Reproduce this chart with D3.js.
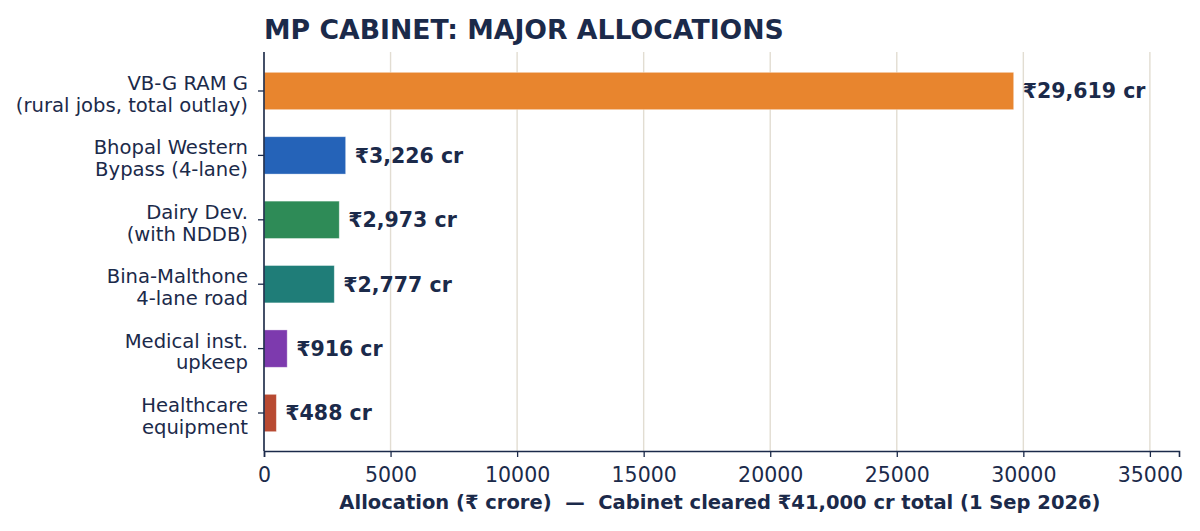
<!DOCTYPE html>
<html lang="en">
<head>
  <meta charset="UTF-8">
  <title>MP Cabinet: Major Allocations</title>
  <script src="https://d3js.org/d3.v7.min.js"></script>
  <style>
    body {
      margin: 0;
      background: #fff;
    }
    svg text {
      font-family: 'DejaVu Sans', sans-serif;
      fill: #1b2a4a;
    }
  </style>
</head>
<body>
<svg width="1200" height="531"></svg>

<script>
const width = 1200, height = 531;
const margin = { top: 53, right: 21, bottom: 80, left: 264 };

// data, top to bottom
const labels = [
  ["VB-G RAM G", "(rural jobs, total outlay)"],
  ["Bhopal Western", "Bypass (4-lane)"],
  ["Dairy Dev.", "(with NDDB)"],
  ["Bina-Malthone", "4-lane road"],
  ["Medical inst.", "upkeep"],
  ["Healthcare", "equipment"]
];
const values = [29619, 3226, 2973, 2777, 916, 488];
const colors = ["#e8852e", "#2563b8", "#2e8b57", "#1f7d78", "#7d3aae", "#b84a32"];
const xTicks = [0, 5000, 10000, 15000, 20000, 25000, 30000, 35000];

const navy = "#1b2a4a";

const svg = d3.select("svg");

const x = d3.scaleLinear()
  .domain([0, 36150])
  .range([margin.left, width - margin.right]);

const y = d3.scaleBand()
  .domain(d3.range(values.length))
  .range([margin.top, height - margin.bottom])
  .paddingInner(0.42)
  .paddingOuter(0.3);

// grid lines
svg.append("g")
  .selectAll("line")
  .data(xTicks)
  .join("line")
  .attr("x1", d => x(d))
  .attr("x2", d => x(d))
  .attr("y1", margin.top - 1)
  .attr("y2", height - margin.bottom)
  .attr("stroke", "#e2ddd2")
  .attr("stroke-width", 1.4);

// bars
svg.append("g")
  .selectAll("rect")
  .data(values)
  .join("rect")
  .attr("x", x(0))
  .attr("y", (d, i) => y(i))
  .attr("width", d => x(d) - x(0))
  .attr("height", y.bandwidth())
  .attr("fill", (d, i) => colors[i])
  .attr("stroke", "rgba(255,255,255,0.45)")
  .attr("stroke-width", 0.8);

// value labels
svg.append("g")
  .selectAll("text")
  .data(values)
  .join("text")
  .attr("x", d => x(d) + 9)
  .attr("y", (d, i) => y(i) + y.bandwidth() / 2)
  .attr("dy", "0.36em")
  .style("font-size", "20.5px")
  .style("font-weight", "bold")
  .text(d => "₹" + d3.format(",")(d) + " cr");

// x axis
const xAxis = svg.append("g")
  .attr("transform", `translate(0,${height - margin.bottom})`)
  .call(d3.axisBottom(x).tickValues(xTicks).tickFormat(d3.format("d")).tickSize(6).tickPadding(10));
xAxis.select(".domain").attr("stroke", navy).attr("stroke-width", 1.6);
xAxis.selectAll(".tick line").attr("stroke", navy).attr("stroke-width", 1.3);
xAxis.selectAll(".tick text")
  .style("font-size", "20.5px")
  .style("font-family", "'DejaVu Sans', sans-serif")
  .attr("fill", navy);

// y axis
const yAxis = svg.append("g")
  .attr("transform", `translate(${margin.left},0)`)
  .call(d3.axisLeft(y).tickSize(6).tickPadding(10).tickFormat(""));
yAxis.select(".domain")
  .attr("d", `M0,${margin.top - 1}V${height - margin.bottom}`)
  .attr("stroke", navy).attr("stroke-width", 1.6);
yAxis.selectAll(".tick line").attr("stroke", navy).attr("stroke-width", 1.3);

// two-line category labels, baselines set like the reference
yAxis.selectAll(".tick")
  .append("text")
  .attr("x", -16)
  .attr("text-anchor", "end")
  .style("font-size", "19.6px")
  .attr("fill", navy)
  .each(function(i) {
    const lines = labels[i];
    d3.select(this).selectAll("tspan")
      .data(lines)
      .join("tspan")
      .attr("x", -16)
      .attr("y", (l, k) => -1 + k * 21.8)
      .text(l => l);
  });

// title
svg.append("text")
  .attr("x", margin.left)
  .attr("y", 39)
  .style("font-size", "26.7px")
  .style("font-weight", "bold")
  .text("MP CABINET: MAJOR ALLOCATIONS");

// x label
svg.append("text")
  .attr("x", (x(0) + x(35000)) / 2 + 13)
  .attr("y", 509)
  .attr("text-anchor", "middle")
  .style("font-size", "19.5px")
  .style("font-weight", "bold")
  .style("white-space", "pre")
  .text("Allocation (₹ crore)  —  Cabinet cleared ₹41,000 cr total (1 Sep 2026)");
</script>
</body>
</html>
